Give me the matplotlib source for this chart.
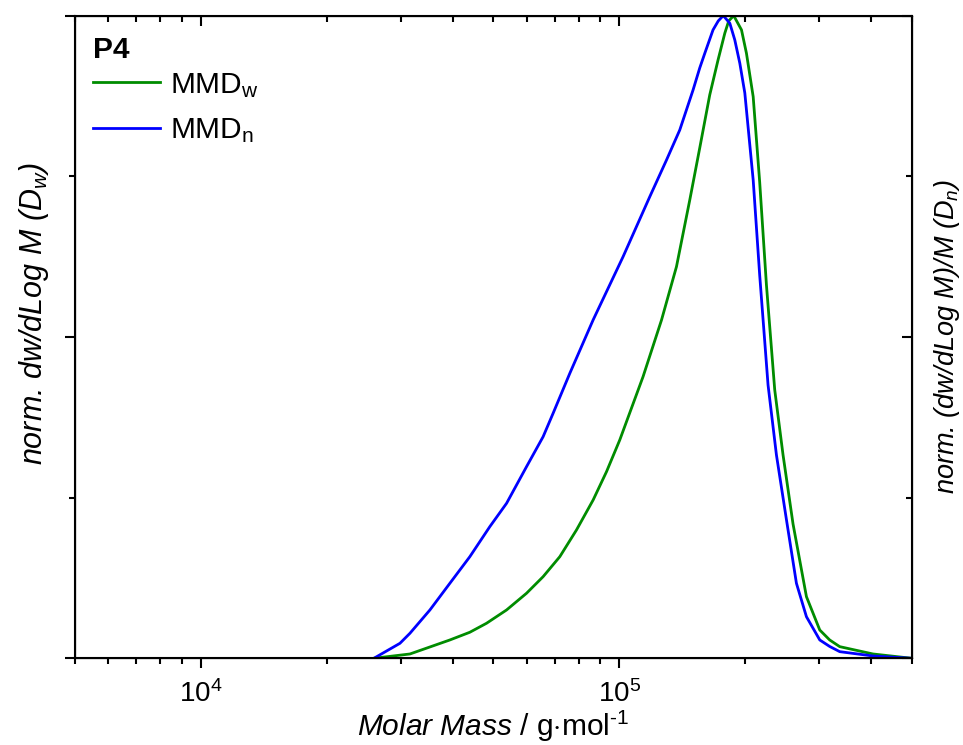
import numpy as np
import matplotlib
matplotlib.use("Agg")
import matplotlib.pyplot as plt
from matplotlib.ticker import LogLocator, NullFormatter, MultipleLocator

plt.rcParams['font.family'] = ['Liberation Sans', 'DejaVu Sans']
plt.rcParams['mathtext.fontset'] = 'custom'
plt.rcParams['mathtext.rm'] = 'Liberation Sans'
plt.rcParams['mathtext.it'] = 'Liberation Sans:italic'
plt.rcParams['mathtext.bf'] = 'Liberation Sans:bold'

# molar mass (g/mol) and normalised distributions
mass_w = [25900, 31580, 39340, 43910, 48140, 53750, 59990, 65720, 72040,
          78970, 86540, 93160, 100200, 113900, 126100, 136900, 147300,
          155600, 164400, 172100, 178600, 182500, 187600, 195800, 201200,
          208800, 216400, 224600, 235100, 246100, 260000, 279900, 301200,
          318100, 336200, 403700, 499300]
mmd_w = [0.0, 0.0067, 0.0285, 0.0405, 0.0545, 0.0752, 0.1012, 0.1270, 0.1581,
         0.1997, 0.2463, 0.2904, 0.3397, 0.4382, 0.5265, 0.6094, 0.7132,
         0.7941, 0.8766, 0.9311, 0.9726, 0.9918, 1.0, 0.9778, 0.9415,
         0.8739, 0.7412, 0.5809, 0.4175, 0.3164, 0.2090, 0.0959, 0.0440,
         0.0285, 0.0181, 0.0067, 0.0]

mass_n = [25900, 29890, 31580, 35250, 39340, 43910, 49010, 53750, 59990,
          65720, 69440, 76130, 86540, 102060, 118200, 129600, 139400,
          150000, 155600, 160000, 167400, 172300, 177100, 183600, 188700,
          194000, 199400, 208800, 216400, 226600, 237300, 250800, 264900,
          279900, 301200, 318100, 336200, 403700, 499300]
mmd_n = [0.0, 0.0233, 0.0389, 0.0752, 0.1167, 0.1581, 0.2048, 0.2412, 0.2982,
         0.3448, 0.3813, 0.4435, 0.5265, 0.6250, 0.7183, 0.7754, 0.8221,
         0.8844, 0.9186, 0.9415, 0.9778, 0.9918, 1.0, 0.9882, 0.9622,
         0.9259, 0.8797, 0.7443, 0.5965, 0.4253, 0.3164, 0.2152, 0.1167,
         0.0647, 0.0285, 0.0184, 0.0103, 0.0036, 0.0]

green = '#008c00'
blue = '#0000ff'

fig = plt.figure(figsize=(9.63, 7.45), dpi=100)
ax = fig.add_axes([0.0779, 0.1164, 0.869, 0.8626])

ax.plot(mass_w, mmd_w, color=green, lw=2.0, label=r'MMD$_\mathregular{w}$')
ax.plot(mass_n, mmd_n, color=blue, lw=2.0, label=r'MMD$_\mathregular{n}$')

ax.set_xscale('log')
ax.set_xlim(5000, 5e5)
ax.set_ylim(0, 1)
ax.xaxis.set_major_locator(LogLocator(base=10, numticks=10))
ax.xaxis.set_minor_locator(LogLocator(base=10, subs=np.arange(2, 10), numticks=20))
ax.xaxis.set_minor_formatter(NullFormatter())
ax.yaxis.set_major_locator(MultipleLocator(0.5))
ax.yaxis.set_minor_locator(MultipleLocator(0.25))
ax.set_yticklabels([])
ax.tick_params(which='major', direction='out', length=7.5, width=1.5, labelsize=20, pad=8)
ax.tick_params(which='minor', direction='out', length=4, width=1.5)
for s in ax.spines.values():
    s.set_linewidth(1.5)

ax.set_xlabel(r'$\mathit{Molar\ Mass}$ / g$\cdot$mol$^{\text{-1}}$', fontsize=21.5, labelpad=1)
ax.set_ylabel(r'norm. dw/dLog M ($D_w$)', fontsize=22, style='italic', labelpad=2)
ax.yaxis.label.set_y(0.537)

# top axis, ticks pointing in
axt = ax.twiny()
axt.set_xscale('log')
axt.set_xlim(ax.get_xlim())
axt.xaxis.set_major_locator(LogLocator(base=10, numticks=10))
axt.xaxis.set_minor_locator(LogLocator(base=10, subs=np.arange(2, 10), numticks=20))
axt.xaxis.set_major_formatter(NullFormatter())
axt.xaxis.set_minor_formatter(NullFormatter())
axt.tick_params(which='major', direction='in', length=7.5, width=1.5)
axt.tick_params(which='minor', direction='in', length=4, width=1.5)

# right axis, ticks pointing in
axr = ax.twinx()
axr.set_ylim(0, 1)
axr.yaxis.set_major_locator(MultipleLocator(0.5))
axr.yaxis.set_minor_locator(MultipleLocator(0.25))
axr.set_yticklabels([])
axr.tick_params(which='major', direction='in', length=7.5, width=1.5)
axr.tick_params(which='minor', direction='in', length=4, width=1.5)
axr.set_ylabel(r'norm. (dw/dLog M)/M ($D_n$)', fontsize=19.5, style='italic', labelpad=11)

ax.text(0.0215, 0.934, 'P4', transform=ax.transAxes, fontsize=21.5,
        fontweight='bold', va='baseline', ha='left')
leg = ax.legend(loc='upper left', bbox_to_anchor=(0.0215, 0.914), frameon=False,
                fontsize=21.5, handlelength=2.25, handletextpad=0.33,
                labelspacing=0.56, borderaxespad=0.0, borderpad=0.0)

fig.savefig('out.png', dpi=100)
